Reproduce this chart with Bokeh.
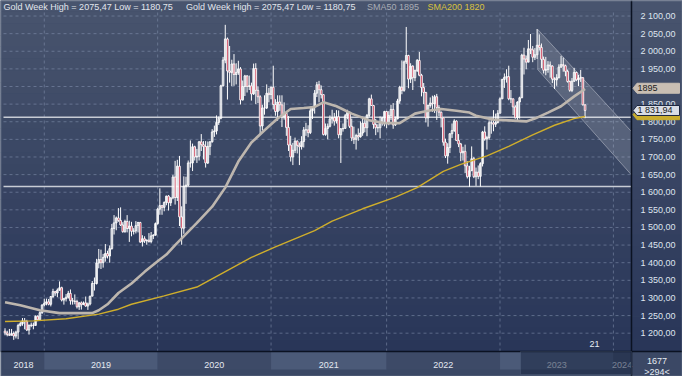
import numpy as np
import pandas as pd
from bokeh.plotting import figure
from bokeh.models import Range1d, FixedTicker, BoxAnnotation, Label, ColumnDataSource
from bokeh.embed import file_html
from bokeh.resources import INLINE

# ---------------- data (weekly gold candles, first week ending 2018-08-31) ----------------
first_week = "2018-08-31"
first_open = 1206
close = [
    1201, 1196, 1194, 1199, 1192, 1203, 1222, 1227, 1235, 1233, 1209, 1222, 1223, 1222, 1248, 1238, 1258, 1280,
    1285, 1289, 1282, 1304, 1318, 1314, 1322, 1329, 1294, 1298, 1302, 1313, 1292, 1291, 1290, 1275, 1286, 1281,
    1286, 1277, 1283, 1305, 1341, 1341, 1399, 1409, 1400, 1415, 1426, 1419, 1440, 1497, 1513, 1527, 1520, 1507,
    1488, 1517, 1497, 1504, 1489, 1490, 1505, 1514, 1459, 1468, 1462, 1464, 1460, 1476, 1478, 1511,
    1552, 1562, 1557, 1571, 1589, 1570, 1584, 1643, 1585, 1674, 1530, 1498, 1617, 1620, 1683, 1683, 1729, 1700,
    1702, 1743, 1735, 1730, 1683, 1730, 1743, 1771, 1774, 1798, 1810, 1902, 1975, 2035, 1944, 1940, 1964, 1934,
    1940, 1950, 1862, 1900, 1930, 1900, 1902, 1879, 1951, 1889, 1871, 1788, 1839, 1839, 1881, 1877,
    1898, 1849, 1829, 1856, 1848, 1814, 1824, 1784, 1734, 1700, 1719, 1745, 1733, 1729, 1744, 1777, 1777, 1769,
    1831, 1843, 1881, 1905, 1891, 1877, 1764, 1781, 1787, 1808, 1812, 1802, 1814, 1763, 1780, 1781, 1817, 1827,
    1787, 1754, 1750, 1761, 1757, 1768, 1796, 1783, 1818, 1865, 1846, 1792, 1783, 1783, 1798, 1811, 1829,
    1797, 1818, 1835, 1791, 1808, 1859, 1898, 1889, 1970, 1988, 1921, 1958, 1925, 1945, 1974, 1932, 1897, 1883,
    1811, 1846, 1853, 1851, 1871, 1840, 1827, 1811, 1742, 1703, 1727, 1766, 1775, 1802, 1747, 1737, 1712, 1716,
    1675, 1644, 1661, 1695, 1644, 1657, 1645, 1681, 1771, 1751, 1755, 1797, 1797, 1793, 1798, 1824,
    1865, 1920, 1926, 1928, 1865, 1865, 1842, 1811, 1856, 1868, 1989, 1978, 1969, 2007, 2004, 1983, 1990, 2017,
    2011, 1977, 1946, 1948, 1961, 1958, 1921, 1919, 1925, 1955, 1962, 1959, 1943, 1914, 1889, 1915, 1940, 1919,
    1924, 1925, 1848, 1832,
]
high = [
    1214, 1207, 1212, 1212, 1205, 1207, 1227, 1233, 1243, 1243, 1238, 1225, 1230, 1230, 1250, 1251, 1262, 1282,
    1298, 1298, 1297, 1305, 1326, 1320, 1327, 1347, 1332, 1300, 1311, 1320, 1324, 1300, 1310, 1295, 1288, 1290,
    1290, 1304, 1287, 1306, 1348, 1358, 1411, 1439, 1437, 1425, 1453, 1434, 1449, 1510, 1535, 1531, 1555, 1557,
    1515, 1522, 1535, 1519, 1516, 1498, 1518, 1516, 1516, 1478, 1475, 1466, 1484, 1487, 1481, 1514,
    1556, 1611, 1564, 1574, 1590, 1592, 1585, 1649, 1689, 1692, 1703, 1560, 1645, 1644, 1690, 1747, 1738, 1732,
    1723, 1745, 1765, 1745, 1745, 1744, 1745, 1779, 1789, 1818, 1815, 1905, 1984, 2075, 2039, 2015, 1976, 1992,
    1966, 1973, 1955, 1917, 1933, 1932, 1931, 1911, 1965, 1966, 1900, 1875, 1848, 1875, 1906, 1896,
    1900, 1959, 1864, 1875, 1875, 1875, 1855, 1825, 1816, 1760, 1740, 1755, 1747, 1741, 1759, 1785, 1797, 1790,
    1843, 1845, 1890, 1913, 1916, 1903, 1877, 1795, 1795, 1818, 1834, 1825, 1833, 1832, 1782, 1795, 1822, 1834,
    1828, 1809, 1786, 1766, 1781, 1801, 1814, 1810, 1822, 1868, 1877, 1848, 1808, 1793, 1815, 1814, 1831,
    1831, 1830, 1848, 1853, 1815, 1865, 1902, 1974, 1974, 2069, 1990, 1966, 1960, 1948, 1978, 1998, 1936, 1910,
    1885, 1849, 1869, 1874, 1876, 1879, 1847, 1829, 1812, 1752, 1739, 1767, 1795, 1807, 1804, 1765, 1740, 1729,
    1735, 1688, 1675, 1730, 1700, 1670, 1676, 1685, 1774, 1787, 1760, 1804, 1810, 1833, 1823, 1833,
    1869, 1922, 1937, 1949, 1959, 1890, 1866, 1847, 1858, 1871, 1993, 2010, 1988, 2032, 2049, 2015, 2009, 2063,
    2048, 2022, 1985, 1984, 1972, 1971, 1960, 1926, 1935, 1963, 1987, 1982, 1962, 1948, 1917, 1924, 1953, 1942,
    1933, 1947, 1926, 1850,
]
low = [
    1194, 1191, 1192, 1194, 1181, 1185, 1183, 1219, 1221, 1211, 1206, 1196, 1217, 1211, 1221, 1234, 1236, 1255,
    1276, 1279, 1279, 1276, 1300, 1306, 1302, 1320, 1290, 1281, 1290, 1298, 1281, 1281, 1282, 1270, 1266, 1267,
    1280, 1275, 1266, 1279, 1305, 1321, 1338, 1384, 1382, 1386, 1403, 1412, 1400, 1437, 1480, 1492, 1516, 1504,
    1485, 1485, 1486, 1459, 1475, 1480, 1483, 1486, 1456, 1446, 1456, 1451, 1457, 1455, 1467, 1477,
    1508, 1536, 1536, 1546, 1563, 1548, 1561, 1580, 1565, 1575, 1504, 1451, 1482, 1567, 1617, 1670, 1660, 1690,
    1683, 1690, 1717, 1693, 1670, 1680, 1705, 1741, 1757, 1764, 1791, 1807, 1900, 1966, 1863, 1911, 1901, 1902,
    1906, 1933, 1849, 1860, 1873, 1883, 1890, 1860, 1876, 1850, 1853, 1764, 1775, 1820, 1836, 1855,
    1864, 1835, 1817, 1803, 1831, 1785, 1806, 1760, 1717, 1687, 1677, 1711, 1710, 1677, 1721, 1727, 1760, 1756,
    1765, 1808, 1823, 1870, 1855, 1866, 1761, 1760, 1750, 1784, 1795, 1789, 1795, 1753, 1683, 1772, 1781, 1807,
    1782, 1745, 1737, 1721, 1746, 1755, 1760, 1770, 1759, 1813, 1845, 1780, 1762, 1770, 1753, 1789, 1787,
    1782, 1790, 1805, 1780, 1788, 1807, 1851, 1878, 1885, 1964, 1895, 1910, 1890, 1915, 1941, 1929, 1872, 1850,
    1798, 1786, 1840, 1828, 1825, 1805, 1816, 1784, 1732, 1697, 1681, 1711, 1754, 1771, 1745, 1728, 1688, 1690,
    1654, 1639, 1615, 1660, 1640, 1618, 1637, 1616, 1673, 1746, 1721, 1749, 1766, 1773, 1785, 1795,
    1824, 1865, 1896, 1911, 1861, 1853, 1819, 1809, 1804, 1809, 1867, 1934, 1949, 1969, 1992, 1969, 1975, 1978,
    2002, 1952, 1937, 1932, 1939, 1925, 1910, 1893, 1902, 1923, 1953, 1942, 1929, 1911, 1885, 1884, 1913, 1915,
    1901, 1913, 1846, 1810,
]

# moving averages (week index, value)
sma50_week = [0, 7, 16, 25, 34, 40, 43, 47, 52, 58, 64, 70, 74, 78, 88, 95, 101, 107, 113, 119, 125, 131,
              137, 142, 146, 152, 159, 167, 174, 181, 188, 194, 200, 207, 213, 216, 224, 231, 239, 243,
              249, 255, 261, 266]
sma50 = [1288, 1279, 1265, 1257, 1257, 1257, 1265, 1282, 1314, 1341, 1374, 1404, 1423, 1450, 1513, 1559,
         1613, 1687, 1741, 1776, 1809, 1836, 1839, 1842, 1855, 1844, 1823, 1804, 1796, 1796, 1823, 1831,
         1836, 1831, 1826, 1817, 1806, 1804, 1801, 1809, 1826, 1844, 1872, 1893]
sma200_week = [0, 13, 28, 43, 52, 58, 73, 88, 113, 124, 142, 150, 164, 179, 189, 201, 209, 221, 231, 242,
               252, 261, 266]
sma200 = [1233, 1235, 1241, 1254, 1268, 1282, 1306, 1331, 1415, 1445, 1491, 1518, 1553, 1586, 1613, 1659,
          1679, 1703, 1730, 1763, 1790, 1809, 1815]

levels = [1813, 1616]                      # horizontal lines
channel_week = [244.3, 287.3]              # downward channel
channel_upper = [2062, 1772]
channel_lower = [1948, 1649]

y_ticks = list(range(1200, 2101, 50))
years = ["2018", "2019", "2020", "2021", "2022", "2023", "2024"]
title_text = "Gold Week High = 2075,47 Low = 1180,75"
sma50_text = "SMA50 1895"
sma200_text = "SMA200 1820"
last_price = 1831.94
last_sma50 = 1895
last_sma200 = 1820
corner_top = "1677"
corner_bottom = ">294<"
counter_text = "21"

# ---------------- layout ----------------
W, H = 682, 376
FONT = "Liberation Sans"
n = len(close)
assert len(high) == n and len(low) == n
week = list(range(n))
opens = [first_open] + close[:-1]

dates = pd.date_range(first_week, periods=n + 30, freq="W-FRI")
year_start = [i for i in range(1, len(dates)) if dates[i].year != dates[i - 1].year]

# chart area (weeks / price) and its pixel margins inside the canvas
cx0, cx1 = -0.7, 287.3
cy0, cy1 = 1148, 2110
L_PAD, R_PAD, T_PAD, B_PAD = 3, 51, 12, 25
upx = (W - L_PAD - R_PAD) / (cx1 - cx0)    # px per week
ppu = (H - T_PAD - B_PAD) / (cy1 - cy0)    # px per price unit
fx0, fx1 = cx0 - L_PAD / upx, cx1 + R_PAD / upx
fy0, fy1 = cy0 - B_PAD / ppu, cy1 + T_PAD / ppu

def px_x(px):   # canvas pixel -> week units
    return fx0 + px / upx

def px_y(py):   # canvas pixel (from top) -> price units
    return fy1 - py / ppu

p = figure(width=W, height=H, x_range=Range1d(fx0, fx1), y_range=Range1d(fy0, fy1),
           output_backend="svg", toolbar_location=None, y_axis_location="right", title=None,
           min_border=0, background_fill_color="#3b4865", border_fill_color="#3b4865")
p.outline_line_color = None
p.xgrid.visible = False
p.ygrid.visible = False

# gradient background (title row, chart and price panel)
c_top, c_bot = (73, 85, 110), (40, 53, 88)
ns = 30
edges = np.linspace(fy1 + 1, cy0, ns + 1)
for i in range(ns):
    t = (i + 0.5) / ns
    col = "#%02x%02x%02x" % tuple(int(round(a + (b - a) * t)) for a, b in zip(c_top, c_bot))
    p.add_layout(BoxAnnotation(left=fx0 - 1, right=fx1 + 1, top=edges[i] + 0.6, bottom=edges[i + 1],
                               fill_color=col, fill_alpha=1, line_color=None, level="image"))

# year bands in the time bar
bounds = [cx0] + year_start + [cx1]
band_bottom = cy0 - 18 / ppu
for i in range(len(bounds) - 1):
    col = "#4b5a78" if i % 2 == 1 else "#3d4a67"
    p.add_layout(BoxAnnotation(left=bounds[i], right=bounds[i + 1], top=cy0, bottom=band_bottom,
                               fill_color=col, fill_alpha=1, line_color=None, level="image"))

# grid lines (dashed) limited to the chart area
p.segment(x0=[cx0] * len(y_ticks), y0=y_ticks, x1=[cx1] * len(y_ticks), y1=y_ticks,
          line_color="#8593b0", line_alpha=0.55, line_dash="3 3", line_width=1, level="underlay")
p.segment(x0=year_start, y0=[cy0] * len(year_start), x1=year_start, y1=[cy1 + 3 / ppu] * len(year_start),
          line_color="#8593b0", line_alpha=0.55, line_dash="3 3", line_width=1, level="underlay")
# horizontal levels
p.segment(x0=[cx0] * len(levels), y0=levels, x1=[cx1] * len(levels), y1=levels,
          line_color="#c8ccd5", line_width=1.5, level="underlay")

# axes drawn at fixed positions inside the canvas
def fmt(v):
    return f"{v:,.2f}".replace(",", " ").replace(".", ",")

ya = p.yaxis[0]
ya.fixed_location = cx1
ya.bounds = (fy0, fy1)
ya.ticker = FixedTicker(ticks=y_ticks)
ya.major_label_overrides = {t: fmt(t) for t in y_ticks}
ya.axis_line_color = "#0b1222"
ya.axis_line_width = 1.5
ya.major_tick_line_color = None
ya.minor_tick_line_color = None
ya.major_label_standoff = 3
ya.major_label_text_color = "#dfe5ef"
ya.major_label_text_font_size = "9px"
ya.major_label_text_font = FONT

mids = []
for i in range(len(bounds) - 1):
    m = round((bounds[i] + bounds[i + 1]) / 2 * 2) / 2
    mids.append(int(m) if m == int(m) else m)
xa = p.xaxis[0]
xa.fixed_location = cy0
xa.bounds = (fx0, fx1)
xa.ticker = FixedTicker(ticks=mids)
xa.major_label_overrides = {m: y for m, y in zip(mids, years)}
xa.axis_line_color = "#0b1222"
xa.axis_line_width = 1.5
xa.major_tick_line_color = None
xa.minor_tick_line_color = None
xa.major_label_standoff = 4
xa.major_label_text_color = "#e4e9f1"
xa.major_label_text_font_size = "9px"
xa.major_label_text_font = FONT

# scroll thumb over the last part of the time bar
p.add_layout(BoxAnnotation(left=px_x(520), right=cx1, top=cy0, bottom=cy0 - 23 / ppu,
                           fill_color="#1c2844", fill_alpha=0.55, line_color="#5d6b88",
                           line_width=1, level="overlay"))

# channel
p.patch(x=[channel_week[0], channel_week[1], channel_week[1], channel_week[0]],
        y=[channel_upper[0], channel_upper[1], channel_lower[1], channel_lower[0]],
        fill_color="#ffffff", fill_alpha=0.14, line_color="#d4d8e0", line_alpha=0.45, line_width=1)

# candles
src = ColumnDataSource(dict(
    x=week, h=high, l=low,
    top=[max(o, c) for o, c in zip(opens, close)],
    bot=[min(o, c) for o, c in zip(opens, close)],
    fill=["#ffffff" if c >= o else "#c4203c" for o, c in zip(opens, close)],
    alpha=[0.0 if c >= o else 1.0 for o, c in zip(opens, close)],
))
p.segment(x0="x", y0="h", x1="x", y1="l", source=src, line_color="#ffffff", line_width=1)
p.vbar(x="x", width=0.75, top="top", bottom="bot", source=src, fill_color="fill", fill_alpha="alpha",
       line_color="#ffffff", line_width=0.9)

# moving averages
p.line(sma50_week, sma50, line_color="#bdb6ae", line_width=2.6)
p.line(sma200_week, sma200, line_color="#cfae2c", line_width=1.4)

# price tags in the axis panel (arrow shaped)
tip = cx1 + 1.5 / upx
body = cx1 + 5.5 / upx
right = cx1 + 48 / upx
half = 5 / ppu
tag_vals = [last_sma50, last_sma200, last_price]
tag_fill = ["#c9beb3", "#c9ad2e", "#d9dde6"]
tag_line = ["#c9beb3", "#c9ad2e", "#1c2640"]
tag_src = ColumnDataSource(dict(
    xs=[[tip, body, right, right, body] for _ in tag_vals],
    ys=[[v, v + half, v + half, v - half, v - half] for v in tag_vals],
    fill=tag_fill, line=tag_line,
))
p.patches(xs="xs", ys="ys", source=tag_src, fill_color="fill", line_color="line", line_width=1,
          level="annotation")

def label(x, y, text, color, align="left", size="9px"):
    p.add_layout(Label(x=x, y=y, text=text, text_color=color, text_font=FONT, text_font_size=size,
                       text_align=align, text_baseline="middle"))

label(cx1 + 6 / upx, last_sma50, str(last_sma50), "#222222")
label(cx1 + 6 / upx, last_price, fmt(last_price), "#1a1a1a")

# title row
title_y = px_y(6)
label(px_x(3), title_y, title_text, "#e2e6ed")
label(px_x(185.6), title_y, title_text, "#e2e6ed")
label(px_x(366.4), title_y, sma50_text, "#a9adb5")
label(px_x(427), title_y, sma200_text, "#d9c23f")

# bottom-right box and counter
label(px_x(656.5), px_y(360.6), corner_top, "#e6ebf2", align="center")
label(px_x(656.5), px_y(371), corner_bottom, "#e6ebf2", align="center")
label(px_x(594), px_y(343), counter_text, "#e6ebf2", align="center")

# outer frame of the widget
p.add_layout(BoxAnnotation(left=fx0, right=fx1, top=fy1, bottom=fy0, fill_alpha=0,
                           line_color="#9aa5b6", line_width=2, level="overlay"))

open("out.html", "w").write(file_html(p, INLINE))
